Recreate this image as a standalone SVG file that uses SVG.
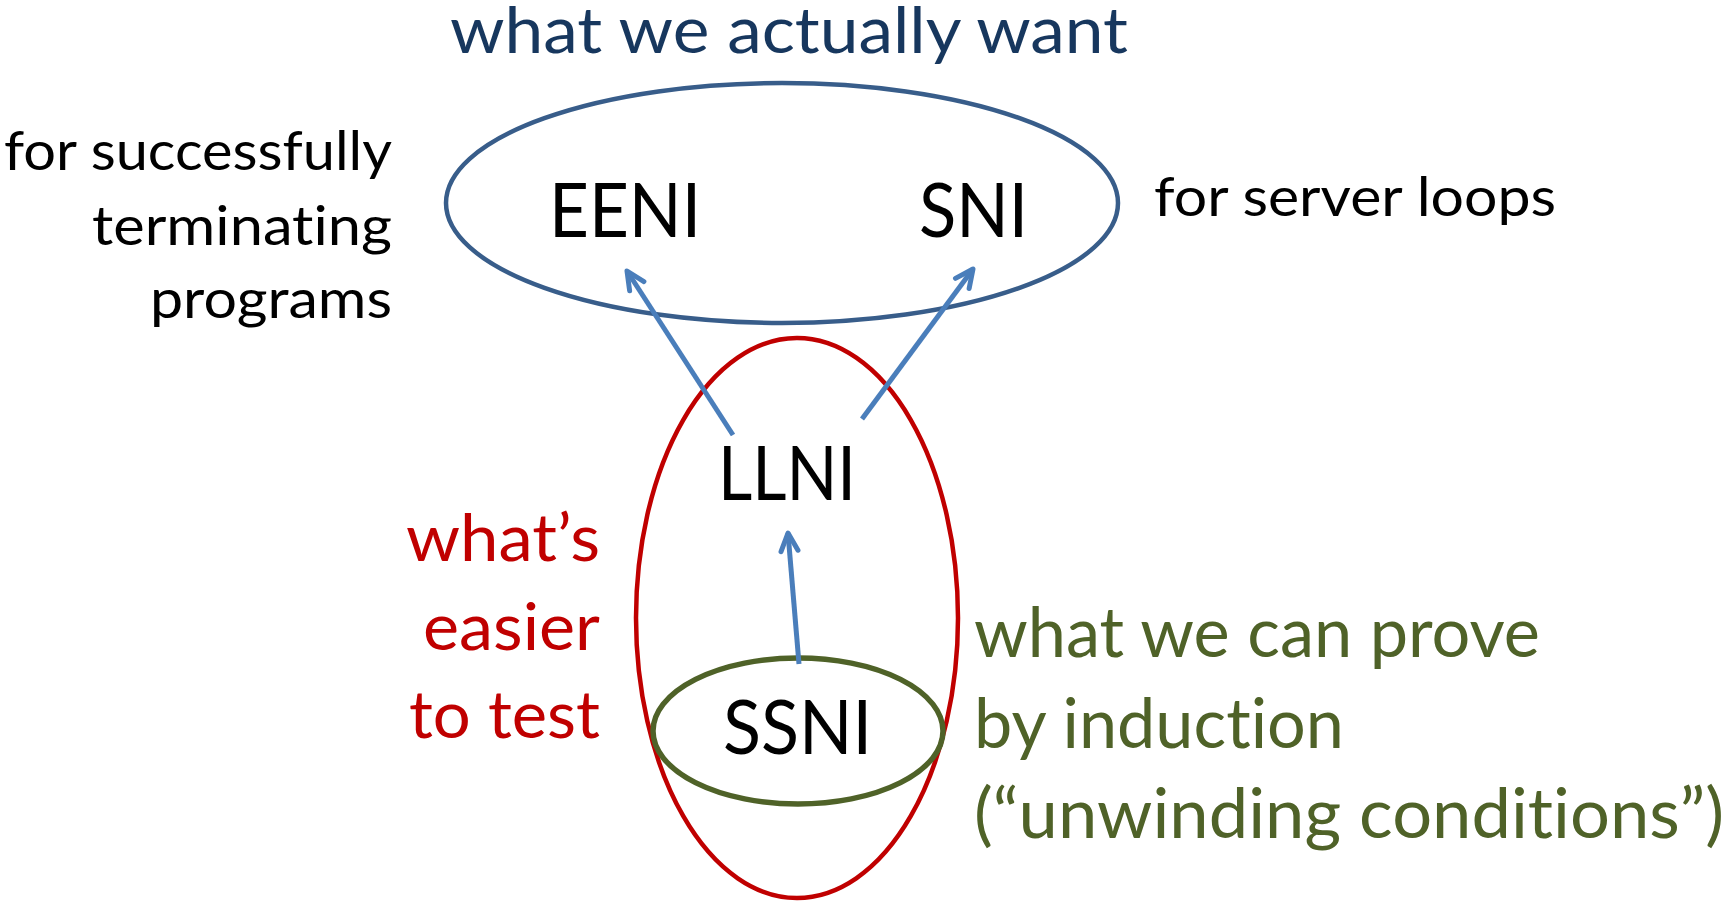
<svg xmlns="http://www.w3.org/2000/svg" width="1730" height="901" viewBox="0 0 1730 901">
  <defs>
    <style>
      text { font-family: Lato, "Liberation Sans", sans-serif; font-variant-ligatures: none; font-feature-settings: "liga" 0, "clig" 0; }
      .node-label { font-size: 75px; fill: #000000; }
      .note-black { font-size: 55px; fill: #000000; }
      .note-red { font-size: 66px; fill: #c00000; }
      .note-green { font-size: 70px; fill: #4f6228; }
      .title { font-size: 63px; fill: #17375e; }
      .set { fill: none; }
      .set-blue { stroke: #385d8a; stroke-width: 4.5; }
      .set-red { stroke: #c00000; stroke-width: 4.5; }
      .set-green { stroke: #4f6228; stroke-width: 5.5; }
      .edge { fill: none; stroke: #4a7ebb; stroke-width: 5; marker-end: url(#arrowhead); }
    </style>
    <marker id="arrowhead" markerUnits="userSpaceOnUse" viewBox="-24 -14 28 28" refX="0" refY="0" markerWidth="28" markerHeight="28" orient="auto">
      <path d="M-18,-8.5 L0,0 L-18,8.5" fill="none" stroke="#4a7ebb" stroke-width="5" stroke-linecap="round" stroke-linejoin="round"/>
    </marker>
  </defs>

  <rect x="0" y="0" width="1730" height="901" fill="#ffffff"/>

  <!-- outer set: the properties we actually want -->
  <g id="set-wanted">
    <ellipse class="set set-blue" cx="782" cy="203" rx="336" ry="120"/>
    <text class="title" x="450" y="53" textLength="678" lengthAdjust="spacingAndGlyphs">what we actually want</text>
    <text class="note-black" x="4" y="170" textLength="388" lengthAdjust="spacingAndGlyphs">for successfully</text>
    <text class="note-black" x="92" y="245" textLength="300" lengthAdjust="spacingAndGlyphs">terminating</text>
    <text class="note-black" x="150" y="318" textLength="242" lengthAdjust="spacingAndGlyphs">programs</text>
    <text class="note-black" x="1154" y="216" textLength="402" lengthAdjust="spacingAndGlyphs">for server loops</text>
  </g>

  <!-- middle set: easier to test -->
  <g id="set-testable">
    <ellipse class="set set-red" cx="797" cy="618" rx="161" ry="280"/>
    <text class="note-red" x="406" y="561" textLength="194" lengthAdjust="spacingAndGlyphs">what’s</text>
    <text class="note-red" x="423" y="650" textLength="177" lengthAdjust="spacingAndGlyphs">easier</text>
    <text class="note-red" x="409" y="738" textLength="191" lengthAdjust="spacingAndGlyphs">to test</text>
  </g>

  <!-- inner set: provable by induction -->
  <g id="set-provable">
    <ellipse class="set set-green" cx="798" cy="731" rx="145" ry="73"/>
    <text class="note-green" x="974" y="657" textLength="566" lengthAdjust="spacingAndGlyphs">what we can prove</text>
    <text class="note-green" x="974" y="748" textLength="370" lengthAdjust="spacingAndGlyphs">by induction</text>
    <text class="note-green" x="974" y="838" textLength="750" lengthAdjust="spacingAndGlyphs">(“unwinding conditions”)</text>
  </g>

  <!-- implication arrows -->
  <g id="connectors">
    <path class="edge" d="M733,435 L627,271"/>
    <path class="edge" d="M862,419 L973,269"/>
    <path class="edge" d="M799,664 L788,533"/>
  </g>

  <g id="node-eeni">
    <text class="node-label" x="549" y="237" textLength="152" lengthAdjust="spacingAndGlyphs">EENI</text>
  </g>
  <g id="node-sni">
    <text class="node-label" x="919" y="237" textLength="109" lengthAdjust="spacingAndGlyphs">SNI</text>
  </g>
  <g id="node-llni">
    <text class="node-label" x="718" y="500" textLength="138" lengthAdjust="spacingAndGlyphs">LLNI</text>
  </g>
  <g id="node-ssni">
    <text class="node-label" x="723" y="754" textLength="149" lengthAdjust="spacingAndGlyphs">SSNI</text>
  </g>
</svg>
